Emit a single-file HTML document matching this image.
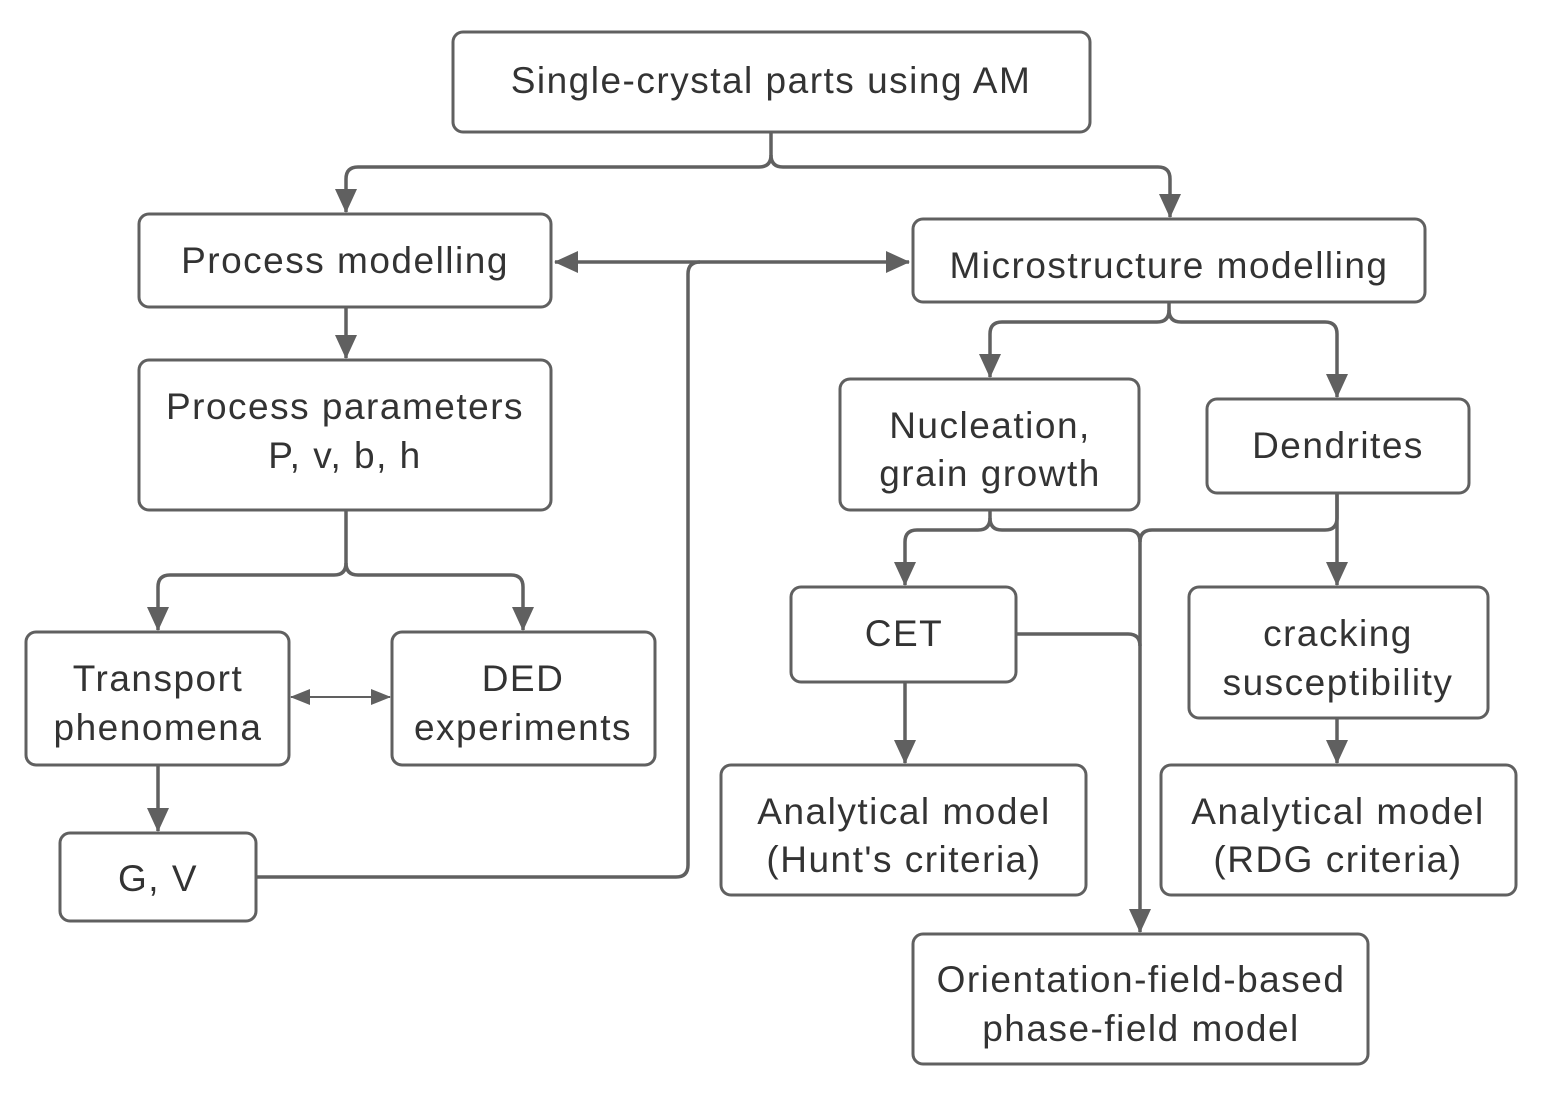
<!DOCTYPE html>
<html><head><meta charset="utf-8"><style>
html,body{margin:0;padding:0;background:#fff}
svg{display:block}
text{font-family:"Liberation Sans","DejaVu Sans",sans-serif;font-size:37px;letter-spacing:1.5px;fill:#333;text-anchor:middle}
.b{fill:#fff;stroke:#606060;stroke-width:3}
.l{fill:none;stroke:#606060;stroke-width:3.5}
</style></head><body>
<svg width="1543" height="1095" viewBox="0 0 1543 1095">
<defs>
<marker id="A" markerWidth="24" markerHeight="24" refX="23" refY="12" orient="auto-start-reverse" markerUnits="userSpaceOnUse" viewBox="0 0 24 24"><path d="M0,1 L24,12 L0,23z" fill="#606060"/></marker>
<marker id="s" markerWidth="20" markerHeight="16" refX="19" refY="8" orient="auto-start-reverse" markerUnits="userSpaceOnUse" viewBox="0 0 20 16"><path d="M0,0 L20,8 L0,16z" fill="#606060"/></marker>
</defs>
<path class="l" d="M771,132 V155 Q771,167 759,167 H358 Q346,167 346,179 V212" marker-end="url(#A)"/>
<path class="l" d="M771,155 Q771,167 783,167 H1158 Q1170,167 1170,179 V217" marker-end="url(#A)"/>
<path class="l" d="M555,262 H909" marker-start="url(#A)" marker-end="url(#A)"/>
<path class="l" d="M256,877 H676 Q688,877 688,865 V274 Q688,262 700,262"/>
<path class="l" d="M346,307 V358" marker-end="url(#A)"/>
<path class="l" d="M346,510 V563 Q346,575 334,575 H170 Q158,575 158,587 V630" marker-end="url(#A)"/>
<path class="l" d="M346,563 Q346,575 358,575 H511 Q523,575 523,587 V630" marker-end="url(#A)"/>
<path style="fill:none;stroke:#606060;stroke-width:2" d="M291,697 H390" marker-start="url(#s)" marker-end="url(#s)"/>
<path class="l" d="M158,765 V831" marker-end="url(#A)"/>
<path class="l" d="M1169,302 V310 Q1169,322 1157,322 H1002 Q990,322 990,334 V377" marker-end="url(#A)"/>
<path class="l" d="M1169,310 Q1169,322 1181,322 H1325 Q1337,322 1337,334 V397" marker-end="url(#A)"/>
<path class="l" d="M990,510 V518 Q990,530 978,530 H917 Q905,530 905,542 V585" marker-end="url(#A)"/>
<path class="l" d="M990,518 Q990,530 1002,530 H1128 Q1140,530 1140,542 V932" marker-end="url(#A)"/>
<path class="l" d="M1337,493 V518 Q1337,530 1325,530 H1152 Q1140,530 1140,542"/>
<path class="l" d="M1337,493 V585" marker-end="url(#A)"/>
<path class="l" d="M1016,634 H1128 Q1140,634 1140,646"/>
<path class="l" d="M905,682 V763" marker-end="url(#A)"/>
<path class="l" d="M1337,718 V763" marker-end="url(#A)"/>
<rect class="b" x="453" y="32" width="637" height="100" rx="10"/>
<text x="771" y="93">Single-crystal parts using AM</text>
<rect class="b" x="139" y="214" width="412" height="93" rx="10"/>
<text x="345" y="273">Process modelling</text>
<rect class="b" x="913" y="219" width="512" height="83" rx="10"/>
<text x="1169" y="278">Microstructure modelling</text>
<rect class="b" x="139" y="360" width="412" height="150" rx="10"/>
<text x="345" y="419">Process parameters</text><text x="345" y="468">P, v, b, h</text>
<rect class="b" x="840" y="379" width="299" height="131" rx="10"/>
<text x="990" y="438">Nucleation,</text><text x="990" y="486">grain growth</text>
<rect class="b" x="1207" y="399" width="262" height="94" rx="10"/>
<text x="1338" y="458">Dendrites</text>
<rect class="b" x="26" y="632" width="263" height="133" rx="10"/>
<text x="158" y="691">Transport</text><text x="158" y="740">phenomena</text>
<rect class="b" x="392" y="632" width="263" height="133" rx="10"/>
<text x="523" y="691">DED</text><text x="523" y="740">experiments</text>
<rect class="b" x="791" y="587" width="225" height="95" rx="10"/>
<text x="904" y="646">CET</text>
<rect class="b" x="1189" y="587" width="299" height="131" rx="10"/>
<text x="1338" y="646">cracking</text><text x="1338" y="695">susceptibility</text>
<rect class="b" x="60" y="833" width="196" height="88" rx="10"/>
<text x="158" y="891">G, V</text>
<rect class="b" x="721" y="765" width="365" height="130" rx="10"/>
<text x="904" y="824">Analytical model</text><text x="904" y="872">(Hunt's criteria)</text>
<rect class="b" x="1161" y="765" width="355" height="130" rx="10"/>
<text x="1338" y="824">Analytical model</text><text x="1338" y="872">(RDG criteria)</text>
<rect class="b" x="913" y="934" width="455" height="130" rx="10"/>
<text x="1141" y="992">Orientation-field-based</text><text x="1141" y="1041">phase-field model</text>
</svg>
</body></html>
